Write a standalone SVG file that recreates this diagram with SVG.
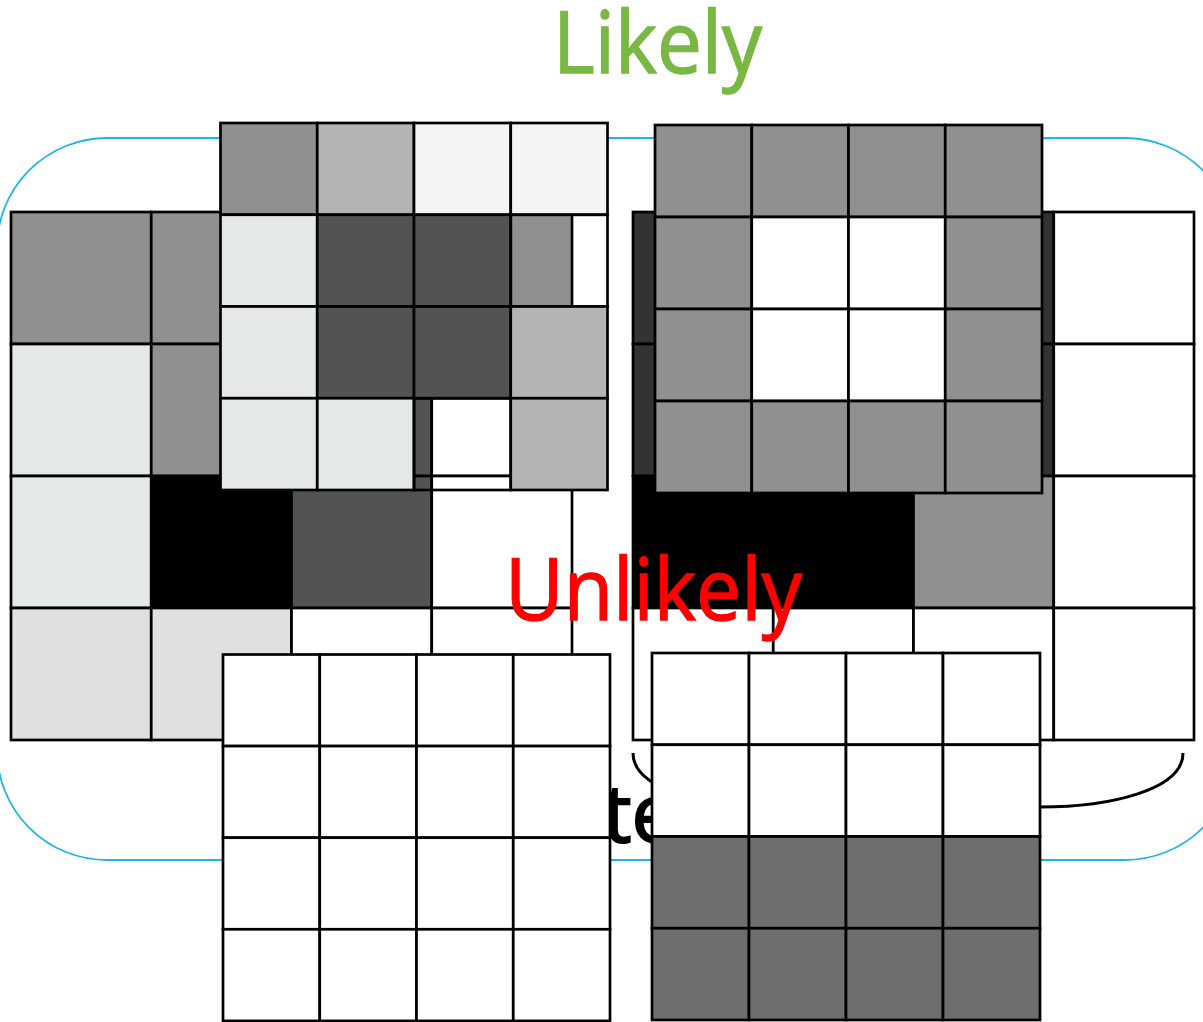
<svg xmlns="http://www.w3.org/2000/svg" width="1203" height="1022" viewBox="0 0 1203 1022">
<style>
.c{stroke:#000;stroke-width:2.7}
.g9{fill:#909090}.gb{fill:#b4b4b4}.gf{fill:#f4f4f4}.ge{fill:#e4e8e9}.g5{fill:#535353}
.gd{fill:#e0e0e0}.g3{fill:#333333}.g6{fill:#6e6e6e}.k{fill:#000}.w{fill:#fff}.n{fill:none}
.lbl{font-family:"Open Sans","Noto Sans",sans-serif;font-size:86px;stroke-width:1.4}
</style>
<rect id="frame" x="-3" y="138" width="1238" height="722" rx="110" fill="none" stroke="#1fb6e6" stroke-width="1.8"/>
<g id="hidden-label"><text x="603" y="842" font-family="Open Sans, Noto Sans, sans-serif" font-size="80" fill="#000" stroke="#000" stroke-width="2">te</text></g>
<g id="connectors"><path d="M633,753 C633,790 706,807 776,807 L1040,807 C1110,807 1183,790 1183,753" fill="none" stroke="#000" stroke-width="3"/></g>
<g id="big-left" class="c">
<rect class="g9" x="11" y="212" width="140.25" height="132"/><rect class="g9" x="151.25" y="212" width="140.25" height="132"/><rect class="g9" x="291.5" y="212" width="140.25" height="132"/><rect class="g9" x="431.75" y="212" width="140.25" height="132"/>
<rect class="ge" x="11" y="344" width="140.25" height="132"/><rect class="g9" x="151.25" y="344" width="140.25" height="132"/><rect class="g5" x="291.5" y="344" width="140.25" height="132"/><rect class="w" x="431.75" y="344" width="140.25" height="132"/>
<rect class="ge" x="11" y="476" width="140.25" height="132"/><rect class="k" x="151.25" y="476" width="140.25" height="132"/><rect class="g5" x="291.5" y="476" width="140.25" height="132"/><rect class="w" x="431.75" y="476" width="140.25" height="132"/>
<rect class="gd" x="11" y="608" width="140.25" height="132"/><rect class="gd" x="151.25" y="608" width="140.25" height="132"/><rect class="w" x="291.5" y="608" width="140.25" height="132"/><rect class="w" x="431.75" y="608" width="140.25" height="132"/>
</g>
<g id="big-right" class="c">
<rect class="g3" x="633" y="212" width="140.25" height="132"/><rect class="g3" x="773.25" y="212" width="140.25" height="132"/><rect class="g3" x="913.5" y="212" width="140.25" height="132"/><rect class="w" x="1053.75" y="212" width="140.25" height="132"/>
<rect class="g3" x="633" y="344" width="140.25" height="132"/><rect class="g3" x="773.25" y="344" width="140.25" height="132"/><rect class="g3" x="913.5" y="344" width="140.25" height="132"/><rect class="w" x="1053.75" y="344" width="140.25" height="132"/>
<rect class="k" x="633" y="476" width="140.25" height="132"/><rect class="k" x="773.25" y="476" width="140.25" height="132"/><rect class="g9" x="913.5" y="476" width="140.25" height="132"/><rect class="w" x="1053.75" y="476" width="140.25" height="132"/>
<rect class="w" x="633" y="608" width="140.25" height="132"/><rect class="w" x="773.25" y="608" width="140.25" height="132"/><rect class="w" x="913.5" y="608" width="140.25" height="132"/><rect class="w" x="1053.75" y="608" width="140.25" height="132"/>
</g>
<g id="top-left" class="c">
<rect class="g9" x="220.5" y="123" width="96.75" height="91.75"/><rect class="gb" x="317.25" y="123" width="96.75" height="91.75"/><rect class="gf" x="414" y="123" width="96.75" height="91.75"/><rect class="gf" x="510.75" y="123" width="96.75" height="91.75"/>
<rect class="ge" x="220.5" y="214.75" width="96.75" height="91.75"/><rect class="g5" x="317.25" y="214.75" width="96.75" height="91.75"/><rect class="g5" x="414" y="214.75" width="96.75" height="91.75"/><rect class="n" x="510.75" y="214.75" width="96.75" height="91.75"/>
<rect class="ge" x="220.5" y="306.5" width="96.75" height="91.75"/><rect class="g5" x="317.25" y="306.5" width="96.75" height="91.75"/><rect class="g5" x="414" y="306.5" width="96.75" height="91.75"/><rect class="gb" x="510.75" y="306.5" width="96.75" height="91.75"/>
<rect class="ge" x="220.5" y="398.25" width="96.75" height="91.75"/><rect class="ge" x="317.25" y="398.25" width="96.75" height="91.75"/><rect class="n" x="414" y="398.25" width="96.75" height="91.75"/><rect class="gb" x="510.75" y="398.25" width="96.75" height="91.75"/>
</g>
<g id="top-right" class="c">
<rect class="g9" x="655" y="125" width="96.75" height="92"/><rect class="g9" x="751.75" y="125" width="96.75" height="92"/><rect class="g9" x="848.5" y="125" width="96.75" height="92"/><rect class="g9" x="945.25" y="125" width="96.75" height="92"/>
<rect class="g9" x="655" y="217" width="96.75" height="92"/><rect class="w" x="751.75" y="217" width="96.75" height="92"/><rect class="w" x="848.5" y="217" width="96.75" height="92"/><rect class="g9" x="945.25" y="217" width="96.75" height="92"/>
<rect class="g9" x="655" y="309" width="96.75" height="92"/><rect class="w" x="751.75" y="309" width="96.75" height="92"/><rect class="w" x="848.5" y="309" width="96.75" height="92"/><rect class="g9" x="945.25" y="309" width="96.75" height="92"/>
<rect class="g9" x="655" y="401" width="96.75" height="92"/><rect class="g9" x="751.75" y="401" width="96.75" height="92"/><rect class="g9" x="848.5" y="401" width="96.75" height="92"/><rect class="g9" x="945.25" y="401" width="96.75" height="92"/>
</g>
<g id="bottom-left" class="c">
<rect class="w" x="223" y="654.5" width="96.75" height="91.6"/><rect class="w" x="319.75" y="654.5" width="96.75" height="91.6"/><rect class="w" x="416.5" y="654.5" width="96.75" height="91.6"/><rect class="w" x="513.25" y="654.5" width="96.75" height="91.6"/>
<rect class="w" x="223" y="746.1" width="96.75" height="91.6"/><rect class="w" x="319.75" y="746.1" width="96.75" height="91.6"/><rect class="w" x="416.5" y="746.1" width="96.75" height="91.6"/><rect class="w" x="513.25" y="746.1" width="96.75" height="91.6"/>
<rect class="w" x="223" y="837.7" width="96.75" height="91.6"/><rect class="w" x="319.75" y="837.7" width="96.75" height="91.6"/><rect class="w" x="416.5" y="837.7" width="96.75" height="91.6"/><rect class="w" x="513.25" y="837.7" width="96.75" height="91.6"/>
<rect class="w" x="223" y="929.3" width="96.75" height="91.6"/><rect class="w" x="319.75" y="929.3" width="96.75" height="91.6"/><rect class="w" x="416.5" y="929.3" width="96.75" height="91.6"/><rect class="w" x="513.25" y="929.3" width="96.75" height="91.6"/>
</g>
<g id="bottom-right" class="c">
<rect class="w" x="652" y="653" width="97" height="91.75"/><rect class="w" x="749" y="653" width="97" height="91.75"/><rect class="w" x="846" y="653" width="97" height="91.75"/><rect class="w" x="943" y="653" width="97" height="91.75"/>
<rect class="w" x="652" y="744.75" width="97" height="91.75"/><rect class="w" x="749" y="744.75" width="97" height="91.75"/><rect class="w" x="846" y="744.75" width="97" height="91.75"/><rect class="w" x="943" y="744.75" width="97" height="91.75"/>
<rect class="g6" x="652" y="836.5" width="97" height="91.75"/><rect class="g6" x="749" y="836.5" width="97" height="91.75"/><rect class="g6" x="846" y="836.5" width="97" height="91.75"/><rect class="g6" x="943" y="836.5" width="97" height="91.75"/>
<rect class="g6" x="652" y="928.25" width="97" height="91.75"/><rect class="g6" x="749" y="928.25" width="97" height="91.75"/><rect class="g6" x="846" y="928.25" width="97" height="91.75"/><rect class="g6" x="943" y="928.25" width="97" height="91.75"/>
</g>
<g id="likely"><text class="lbl" x="553" y="73" fill="#78b843" stroke="#78b843" textLength="209" lengthAdjust="spacingAndGlyphs">Likely</text></g>
<g id="unlikely"><text class="lbl" x="505" y="620" fill="#ff0000" stroke="#ff0000" textLength="297" lengthAdjust="spacingAndGlyphs">Unlikely</text></g>
</svg>
